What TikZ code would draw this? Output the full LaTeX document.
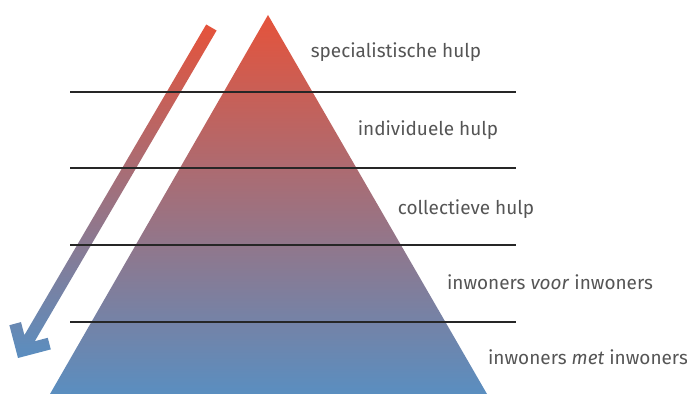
\documentclass[tikz,border=0pt]{standalone}
\usepackage{fontspec}
\setmainfont{Fira Sans}
\definecolor{pyrtop}{RGB}{229,83,59}
\definecolor{pyrmid}{RGB}{176,116,121}
\definecolor{pyrbot}{RGB}{90,142,192}
\definecolor{labelgray}{RGB}{85,85,85}
\tikzset{
	layer/.style={text=labelgray, font=\fontsize{10.8}{13}\selectfont},
	divider/.style={line width=1.1pt, black!85}
}
\begin{document}
\begin{tikzpicture}[x=0.02cm, y=-0.02cm]
		\useasboundingbox (0,0) rectangle (687,394);
		
		% pyramid
		\shade[top color=pyrtop, middle color=pyrmid, bottom color=pyrbot]
			(268,15) -- (487,394) -- (50,394) -- cycle;
		
		% arrow down the side
		\shade[top color=pyrtop, middle color=pyrmid, bottom color=pyrbot]
			(18,358) -- (9.4,325.2) -- (21,322.1) -- (24.4,335.1)
			-- (206.2,24.5) -- (216.6,30.5) -- (34.8,341.2)
			-- (47.8,337.8) -- (50.8,349.4) -- cycle;
		
		\draw[divider] (70,92) -- (516,92);
		\draw[divider] (70,168) -- (516,168);
		\draw[divider] (70,245) -- (516,245);
		\draw[divider] (70,322) -- (516,322);
		
		\node[layer] (spec) at (396,52) {specialistische hulp};
		\node[layer] (indiv) at (428,130) {individuele hulp};
		\node[layer] (coll) at (466,209) {collectieve hulp};
		\node[layer] (voor) at (550,282) {inwoners \textit{voor} inwoners};
		\node[layer] (met) at (588,357) {inwoners \textit{met} inwoners};
	\end{tikzpicture}
\end{document}
